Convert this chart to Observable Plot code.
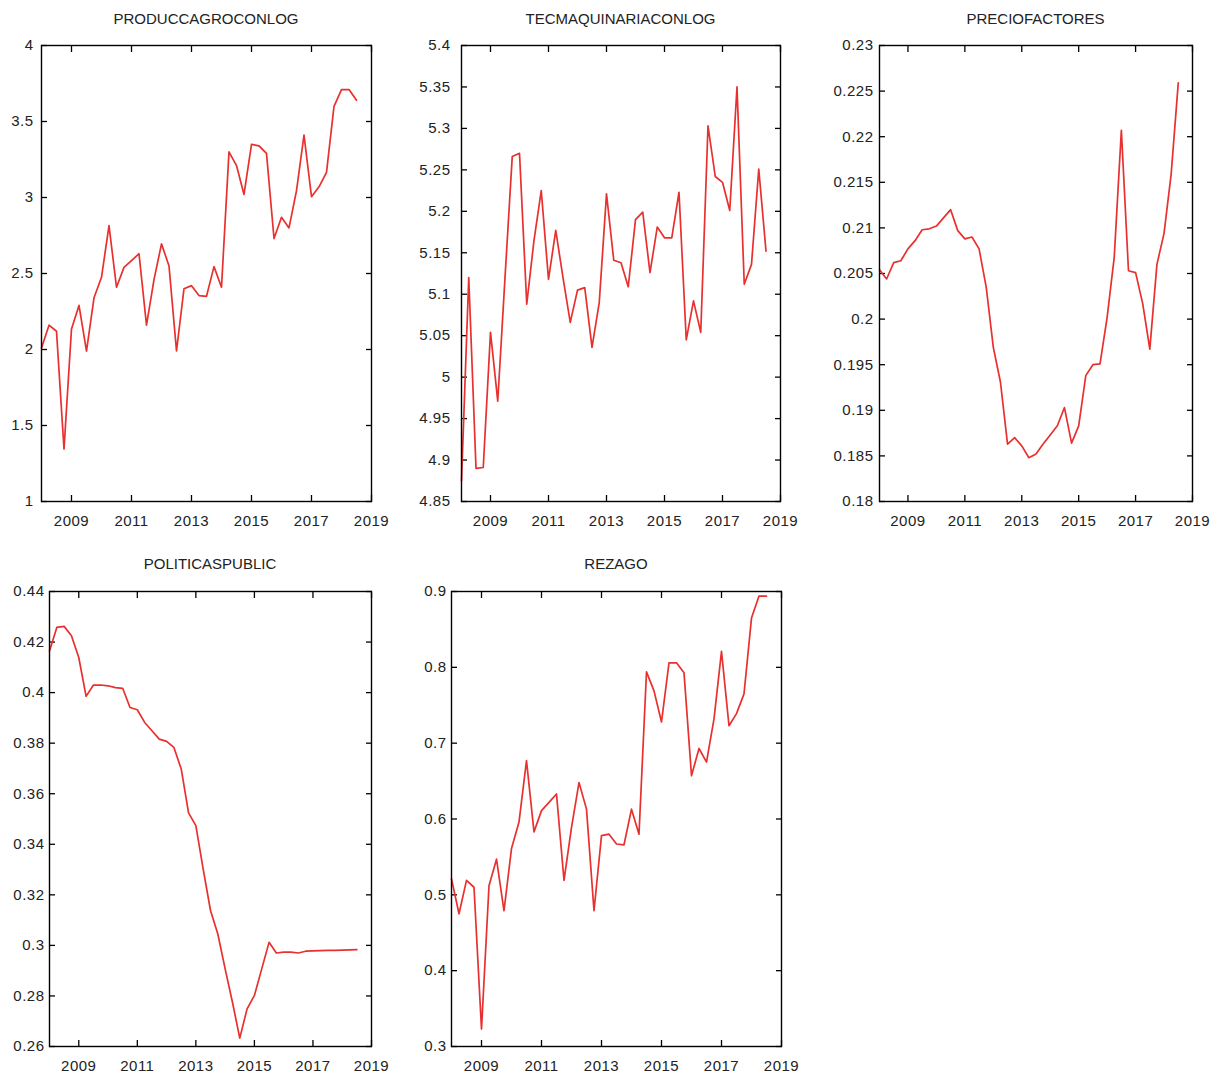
<!DOCTYPE html>
<html>
<head>
<meta charset="utf-8">
<script src="https://cdn.jsdelivr.net/npm/d3@7"></script>
<script src="https://cdn.jsdelivr.net/npm/@observablehq/plot@0.6"></script>
<style>
  html, body { margin: 0; padding: 0; background: #fff; }
  #chart { position: relative; width: 1223px; height: 1076px; background: #fff; overflow: hidden; }
  .ttl { position: absolute; font-family: "Liberation Sans", Arial, sans-serif; font-size: 15px; line-height: 16px; color: #222; text-align: center; white-space: nowrap; }
</style>
</head>
<body>
<div id="chart"></div>
<script>
// Quarterly periods (gretl style year:quarter)
const quarters = [
  "2008:1","2008:2","2008:3","2008:4","2009:1","2009:2","2009:3","2009:4",
  "2010:1","2010:2","2010:3","2010:4","2011:1","2011:2","2011:3","2011:4",
  "2012:1","2012:2","2012:3","2012:4","2013:1","2013:2","2013:3","2013:4",
  "2014:1","2014:2","2014:3","2014:4","2015:1","2015:2","2015:3","2015:4",
  "2016:1","2016:2","2016:3","2016:4","2017:1","2017:2","2017:3","2017:4",
  "2018:1","2018:2","2018:3"
];

const titles = ["PRODUCCAGROCONLOG", "TECMAQUINARIACONLOG", "PRECIOFACTORES", "POLITICASPUBLIC", "REZAGO"];

const producc = [2.01, 2.16, 2.12, 1.345, 2.135, 2.29, 1.99, 2.34, 2.475, 2.815, 2.41, 2.54, 2.585, 2.63, 2.16, 2.46, 2.695, 2.55, 1.99, 2.40, 2.42, 2.355, 2.35, 2.545, 2.41, 3.30, 3.21, 3.02, 3.35, 3.34, 3.29, 2.73, 2.87, 2.80, 3.045, 3.41, 3.005, 3.07, 3.165, 3.60, 3.71, 3.71, 3.64];
const tecmaq = [4.875, 5.120, 4.890, 4.891, 5.054, 4.971, 5.12, 5.266, 5.270, 5.088, 5.165, 5.225, 5.118, 5.177, 5.12, 5.066, 5.105, 5.108, 5.036, 5.09, 5.221, 5.141, 5.138, 5.109, 5.19, 5.199, 5.126, 5.181, 5.168, 5.168, 5.223, 5.045, 5.092, 5.054, 5.303, 5.242, 5.235, 5.201, 5.35, 5.112, 5.136, 5.251, 5.152];
const precio = [0.2054, 0.2044, 0.2062, 0.2064, 0.2077, 0.2086, 0.2098, 0.2099, 0.2102, 0.2111, 0.2120, 0.2097, 0.2088, 0.2090, 0.2077, 0.2035, 0.1969, 0.1931, 0.1863, 0.1870, 0.1861, 0.1848, 0.1852, 0.1863, 0.1873, 0.1883, 0.1903, 0.1864, 0.1883, 0.1938, 0.1950, 0.1951, 0.2002, 0.2068, 0.2207, 0.2053, 0.2051, 0.2017, 0.1967, 0.2060, 0.2094, 0.2159, 0.2259];
const politicas = [0.4165, 0.4258, 0.4262, 0.4225, 0.4139, 0.3985, 0.4030, 0.4030, 0.4027, 0.4020, 0.4017, 0.3941, 0.3932, 0.3882, 0.3849, 0.3816, 0.3807, 0.3783, 0.3698, 0.3524, 0.3474, 0.3302, 0.3138, 0.3045, 0.2907, 0.2775, 0.2633, 0.2749, 0.2802, 0.2907, 0.3012, 0.2970, 0.2973, 0.2973, 0.2970, 0.2977, 0.2978, 0.2979, 0.2980, 0.2980, 0.2981, 0.2982, 0.2983];
const rezago = [0.521, 0.475, 0.519, 0.510, 0.323, 0.512, 0.547, 0.479, 0.561, 0.596, 0.677, 0.583, 0.611, 0.622, 0.633, 0.519, 0.589, 0.648, 0.613, 0.479, 0.578, 0.580, 0.567, 0.566, 0.613, 0.580, 0.794, 0.769, 0.728, 0.806, 0.806, 0.793, 0.657, 0.693, 0.675, 0.732, 0.821, 0.723, 0.739, 0.765, 0.865, 0.894, 0.894];

// Tick labels
const xTicks = [2009, 2011, 2013, 2015, 2017, 2019];
const xDomain = [2008, 2019];
const yTicksProducc = [1, 1.5, 2, 2.5, 3, 3.5, 4];
const yTicksTecmaq = [4.85, 4.9, 4.95, 5, 5.05, 5.1, 5.15, 5.2, 5.25, 5.3, 5.35, 5.4];
const yTicksPrecio = [0.18, 0.185, 0.19, 0.195, 0.2, 0.205, 0.21, 0.215, 0.22, 0.225, 0.23];
const yTicksPoliticas = [0.26, 0.28, 0.3, 0.32, 0.34, 0.36, 0.38, 0.4, 0.42, 0.44];
const yTicksRezago = [0.3, 0.4, 0.5, 0.6, 0.7, 0.8, 0.9];

// Layout (frame rectangles in page pixels) — styling only
const panels = [
  {title: titles[0], values: producc,   ticks: yTicksProducc,   frame: {x0: 41,  x1: 371,  y0: 45,  y1: 501},  gap: 8,  titleTop: 11},
  {title: titles[1], values: tecmaq,    ticks: yTicksTecmaq,    frame: {x0: 461, x1: 780,  y0: 45,  y1: 501},  gap: 11, titleTop: 11},
  {title: titles[2], values: precio,    ticks: yTicksPrecio,    frame: {x0: 879, x1: 1192, y0: 45,  y1: 501},  gap: 6,  titleTop: 11},
  {title: titles[3], values: politicas, ticks: yTicksPoliticas, frame: {x0: 49,  x1: 371,  y0: 591, y1: 1046}, gap: 5,  titleTop: 556},
  {title: titles[4], values: rezago,    ticks: yTicksRezago,    frame: {x0: 451, x1: 781,  y0: 591, y1: 1046}, gap: 5,  titleTop: 556}
];

const toYear = q => { const [y, k] = q.split(":").map(Number); return y + (k - 1) / 4; };
const chart = document.getElementById("chart");
const noText = () => "";

for (const p of panels) {
  const {x0, x1, y0, y1} = p.frame;
  const ml = 60, mr = 30, mt = 10, mb = 40;
  const data = quarters.map((q, i) => ({t: toYear(q), v: p.values[i]}));
  const svg = Plot.plot({
    width: (x1 - x0) + ml + mr,
    height: (y1 - y0) + mt + mb,
    marginLeft: ml, marginRight: mr, marginTop: mt, marginBottom: mb,
    x: {domain: xDomain, label: null},
    y: {domain: [p.ticks[0], p.ticks[p.ticks.length - 1]], label: null},
    style: {fontFamily: "Liberation Sans, Arial, sans-serif", fontSize: "15px", color: "#222", background: "transparent", overflow: "visible", letterSpacing: "0.5px"},
    marks: [
      Plot.axisX(xTicks, {anchor: "bottom", tickSize: 0, tickPadding: 14, tickFormat: d => String(d), label: null}),
      Plot.axisX(xTicks, {anchor: "bottom", tickSize: -6, tickFormat: noText, label: null, stroke: "#000", strokeWidth: 1.3}),
      Plot.axisX(xTicks, {anchor: "top", tickSize: -6, tickFormat: noText, label: null, stroke: "#000", strokeWidth: 1.3}),
      Plot.axisY(p.ticks, {anchor: "left", tickSize: 0, tickPadding: p.gap, tickFormat: d => String(d), label: null}),
      Plot.axisY(p.ticks, {anchor: "left", tickSize: -6, tickFormat: noText, label: null, stroke: "#000", strokeWidth: 1.3}),
      Plot.axisY(p.ticks, {anchor: "right", tickSize: -6, tickFormat: noText, label: null, stroke: "#000", strokeWidth: 1.3}),
      Plot.line(data, {x: "t", y: "v", stroke: "#e8302e", strokeWidth: 1.7}),
      Plot.frame({stroke: "#000", strokeWidth: 1.4})
    ]
  });
  svg.style.position = "absolute";
  svg.style.left = (x0 - ml) + "px";
  svg.style.top = (y0 - mt) + "px";
  chart.appendChild(svg);

  const t = document.createElement("div");
  t.className = "ttl";
  t.textContent = p.title;
  const cx = (x0 + x1) / 2;
  t.style.left = (cx - 150) + "px";
  t.style.width = "300px";
  t.style.top = p.titleTop + "px";
  chart.appendChild(t);
}
</script>
</body>
</html>
